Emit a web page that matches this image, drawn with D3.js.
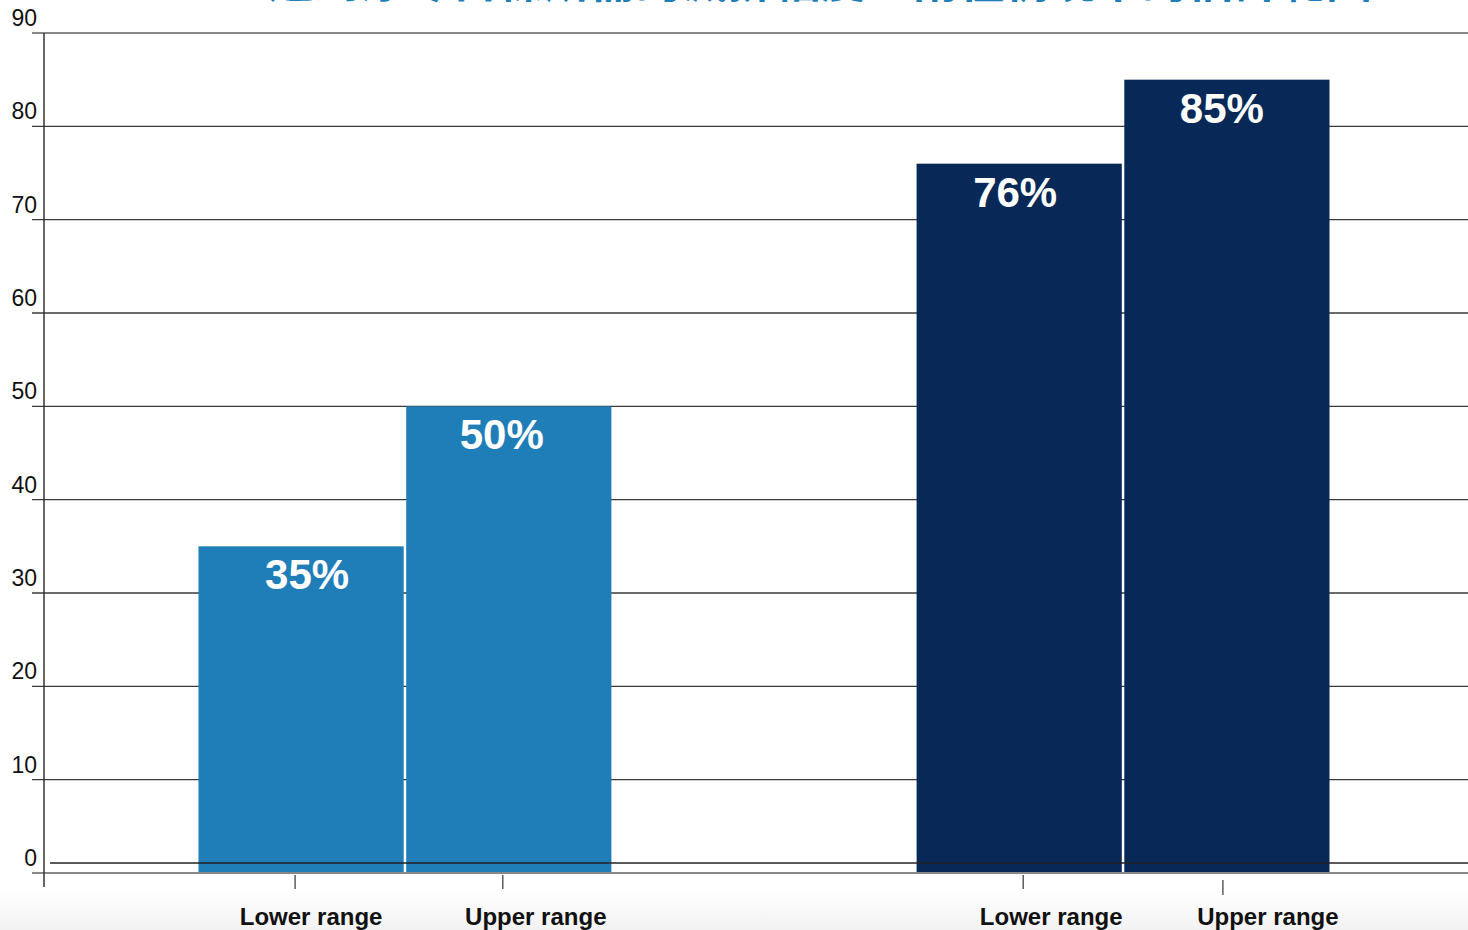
<!DOCTYPE html>
<html>
<head>
<meta charset="utf-8">
<script src="https://cdn.jsdelivr.net/npm/d3@7"></script>
<style>
  body { margin: 0; background: #fff; }
  text { font-family: "Liberation Sans", Arial, sans-serif; }
</style>
</head>
<body>
<div class="canva"></div>
<script>
// bar chart, two groups of two bars
var groups = ['A', 'B'];
var ranges = ['Lower range', 'Upper range'];
var valuesA = [35, 50];
var valuesB = [76, 85];
var yTicks = [0, 10, 20, 30, 40, 50, 60, 70, 80, 90];
var colours = ['#1f7eb8', '#082957'];
var title = '達到淨零目標所需的減排幅度：兩種情境下的估計範圍';

var data = [];
groups.forEach((g, gi) => {
    var vals = gi === 0 ? valuesA : valuesB;
    ranges.forEach((r, ri) => data.push({group: g, range: r, value: vals[ri], gi: gi}));
});

// small hand nudges so ticks / labels sit as in the original
var labelShift = [10, 27, 32, 41];
var tickShift = [-6, -6, 4, -4];
var valueShift = [6, -7, -4, -5];

const W = 1468, H = 930;
const svg = d3.select('.canva').append('svg')
                .attr('width', W)
                .attr('height', H);

// faint grey band at the bottom
var grad = svg.append('defs').append('linearGradient')
                .attr('id', 'fade').attr('x1', 0).attr('x2', 0).attr('y1', 0).attr('y2', 1);
grad.append('stop').attr('offset', '0%').attr('stop-color', '#ffffff');
grad.append('stop').attr('offset', '100%').attr('stop-color', '#f2f2f2');
svg.append('rect').attr('x', 0).attr('y', 890).attr('width', W).attr('height', 40)
    .attr('fill', 'url(#fade)');

// title, mostly above the visible area (cut in the original too)
svg.append('text')
    .attr('x', 820).attr('y', -3)
    .attr('text-anchor', 'middle')
    .attr('fill', '#1f7eb8')
    .style('font-family', '"Noto Sans CJK TC", sans-serif')
    .style('font-weight', 'bold')
    .style('font-size', '46px')
    .text(title);

var y = d3.scaleLinear()
            .domain([0, 90])
            .range([873, 33]);

var x0 = d3.scaleBand()
            .domain(groups)
            .range([52, 1476])
            .paddingInner(0.425)
            .paddingOuter(0.204);

var x1 = d3.scaleBand()
            .domain(ranges)
            .range([0, x0.bandwidth()])
            .paddingInner(0.012);

var cx = d => x0(d.group) + x1(d.range) + x1.bandwidth() / 2;

const axisX = 44;

// gridlines
svg.append('g').selectAll('line')
    .data(yTicks.filter(d => d > 0))
    .enter().append('line')
    .attr('x1', 32).attr('x2', W)
    .attr('y1', d => y(d)).attr('y2', d => y(d))
    .attr('stroke', d => d === 90 ? '#888' : '#3a3a3a')
    .attr('stroke-width', d => d === 90 ? 2 : 1.3);

// y tick labels, sitting above their gridlines
svg.append('g').selectAll('text')
    .data(yTicks)
    .enter().append('text')
    .attr('x', 37)
    .attr('y', d => y(d) - 7)
    .attr('text-anchor', 'end')
    .attr('fill', '#111')
    .style('font-size', '23px')
    .text(d => d);

// bars
svg.append('g').selectAll('rect')
    .data(data)
    .enter().append('rect')
    .attr('x', d => x0(d.group) + x1(d.range))
    .attr('y', d => y(d.value))
    .attr('width', x1.bandwidth())
    .attr('height', d => y(0) - y(d.value))
    .attr('fill', d => colours[d.gi]);

// value labels
svg.append('g').selectAll('text')
    .data(data)
    .enter().append('text')
    .attr('x', (d, i) => cx(d) + valueShift[i])
    .attr('y', d => y(d.value) + 43)
    .attr('text-anchor', 'middle')
    .attr('fill', '#fff')
    .style('font-size', '42px')
    .style('font-weight', 'bold')
    .text(d => d.value + '%');

// black baseline drawn over the bars
svg.append('line')
    .attr('x1', 50).attr('x2', W)
    .attr('y1', y(1.07)).attr('y2', y(1.07))
    .attr('stroke', '#222').attr('stroke-width', 1.3);

// bottom axis line
svg.append('line')
    .attr('x1', 32).attr('x2', W)
    .attr('y1', y(0)).attr('y2', y(0))
    .attr('stroke', '#888').attr('stroke-width', 2);

// y axis line
svg.append('line')
    .attr('x1', axisX).attr('x2', axisX)
    .attr('y1', y(90)).attr('y2', 887)
    .attr('stroke', '#333').attr('stroke-width', 1.5);

// x ticks and labels
var xg = svg.append('g');
xg.selectAll('line')
    .data(data)
    .enter().append('line')
    .attr('x1', (d, i) => cx(d) + tickShift[i])
    .attr('x2', (d, i) => cx(d) + tickShift[i])
    .attr('y1', (d, i) => i === 3 ? 880 : 875)
    .attr('y2', (d, i) => i === 3 ? 895 : 889)
    .attr('stroke', '#444').attr('stroke-width', 1.3);

xg.selectAll('text')
    .data(data)
    .enter().append('text')
    .attr('x', (d, i) => cx(d) + labelShift[i])
    .attr('y', 925)
    .attr('text-anchor', 'middle')
    .attr('fill', '#111')
    .style('font-size', '24px')
    .style('font-weight', 'bold')
    .text(d => d.range);
</script>
</body>
</html>
